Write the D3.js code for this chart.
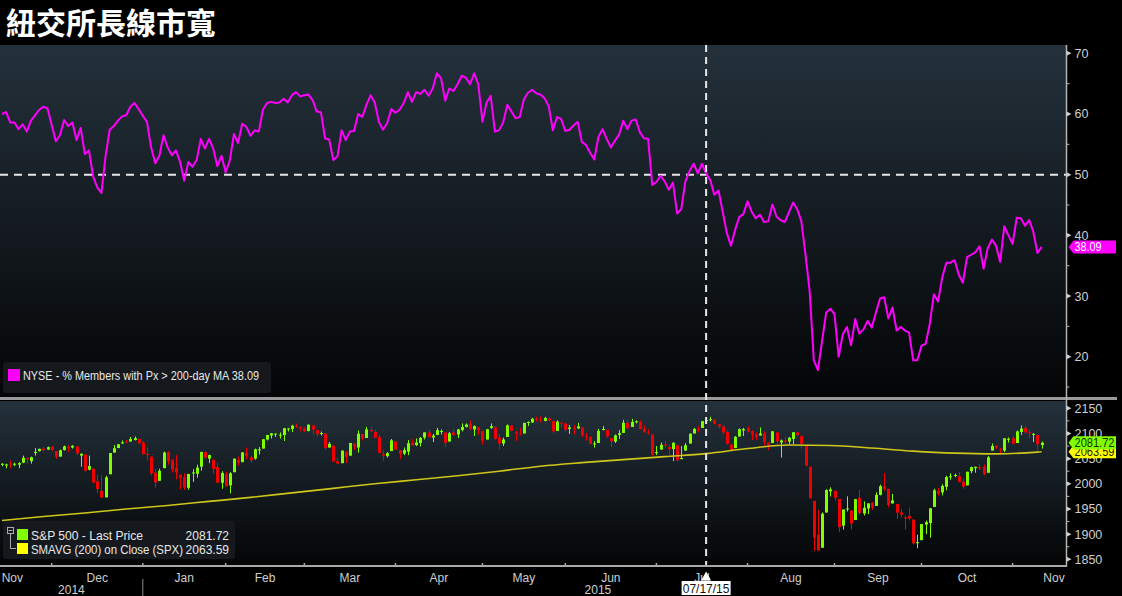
<!DOCTYPE html>
<html><head><meta charset="utf-8">
<script src="https://cdn.jsdelivr.net/npm/d3@7"></script>
<style>
html,body{margin:0;padding:0;background:#000;}
svg{display:block;}
text{font-family:"Liberation Sans",Arial,sans-serif;}
</style></head><body>
<svg id="chart" width="1122" height="596"></svg>
<script>
// ---------- DATA ----------
const title = "紐交所長線市寬";
// NYSE % members above 200-day MA, one value per trading day (11 Nov 2014 .. 10 Nov 2015)
const nyse = [
60.0,60.3,58.6,58.6,57.5,58.3,57.1,58.9,59.8,60.7,
61.2,60.9,58.2,55.5,56.5,59.0,58.0,58.6,55.7,57.7,
53.4,54.0,49.7,47.9,47.0,53.0,57.4,58.0,58.9,59.6,
59.8,61.2,61.8,60.8,59.7,58.7,54.5,51.9,53.1,56.5,
54.5,53.2,54.0,52.1,49.0,52.1,51.3,52.4,55.9,54.3,
55.9,54.3,51.4,53.1,50.4,52.3,56.7,55.2,58.4,57.9,
56.4,57.3,57.1,60.7,61.8,62.0,61.8,61.9,62.5,61.9,
63.1,63.6,62.9,63.1,63.2,62.3,60.4,60.3,56.0,55.8,
52.4,53.0,57.3,55.7,57.1,57.2,60.0,59.5,61.5,63.1,
61.9,58.7,57.4,58.5,60.8,60.2,60.7,61.8,63.6,62.0,
63.6,63.3,64.0,63.0,64.2,66.7,65.9,62.2,64.2,63.8,
64.9,66.3,66.0,64.9,66.7,64.9,58.7,61.9,63.0,57.1,
57.3,58.6,61.5,60.4,59.3,59.5,62.4,63.5,64.0,63.4,
63.2,62.6,61.3,57.3,59.5,59.2,57.2,57.4,58.1,58.7,
55.4,54.9,53.6,52.5,56.2,57.5,55.9,54.5,55.6,56.6,
58.9,57.5,58.9,59.1,57.0,56.0,55.9,48.3,48.8,49.8,
48.9,47.5,48.7,43.6,44.3,48.9,50.6,51.8,50.2,51.8,
50.2,49.1,46.7,47.4,43.9,40.4,38.3,40.9,43.0,43.5,
45.6,43.9,42.8,43.4,42.2,42.3,45.1,43.1,42.5,42.2,
43.8,45.4,44.3,42.3,36.8,30.8,19.4,17.8,22.6,27.3,
27.9,27.0,20.0,23.7,24.9,21.9,26.2,23.8,24.5,25.9,
24.8,27.3,29.6,29.8,26.3,28.1,24.3,24.9,24.3,24.0,
19.4,19.4,21.8,22.1,25.4,30.3,29.1,33.0,35.5,35.5,
35.9,33.5,32.2,36.4,36.8,37.2,38.2,34.5,37.9,39.3,
38.3,35.6,41.5,40.0,38.6,42.9,42.8,41.6,42.5,40.6,
37.1,38.09];
const nyseLast = "38.09";
const nyseLegend = "NYSE - % Members with Px > 200-day MA 38.09";

// S&P 500 daily candles
const spxOpen = [
2039,2037,2040,2039,2038,2042,2051,2045,2061,2065,2070,2068,2074,
2065,2054,2067,2074,2072,2074,2056,2058,2028,2030,2005,1986,1973,2019,2062,2071,2081,2083,2084,2087,2089,2082,
2059,2054,2022,2006,2031,2063,2047,2032,2018,2013,1992,2021,2020,2034,2063,2050,2048,2033,2002,2019,
1997,2023,2048,2043,2062,2053,2050,2068,2070,2088,2096,2099,2097,2097,2109,2109,2115,2113,2111,
2105,2116,2107,2099,2100,2072,2076,2045,2041,2064,2056,2080,2072,2099,2091,2107,2103,2093,2059,2055,2065,2084,
2067,2060,2064,2081,2077,2081,2092,2102,2092,2097,2105,2102,2084,2102,2098,2107,2113,2119,2108,2112,2105,
2088,2111,2112,2092,2080,2093,2116,2103,2100,2100,2122,2122,2130,2128,2125,2130,2125,2105,2122,2120,
2109,2110,2110,2112,2095,2093,2079,2081,2107,2107,2091,2084,2097,2101,2121,2113,2123,2124,2109,2102,2098,2061,
2068,2078,2073,2069,2077,2049,2066,2080,2100,2109,2111,2126,2127,2127,2118,2114,2103,2078,2071,2094,2106,2111,
2105,2097,2096,2100,2082,2081,2102,2082,2086,2084,2089,2102,2095,2076,2034,1966,1899,1873,1943,1985,1986,
1970,1917,1950,1947,1928,1972,1941,1951,1963,1956,1978,1995,1990,1961,1960,1943,1933,1936,1929,1882,1888,
1919,1922,1954,1986,1983,1994,2013,2016,2015,2004,1997,2025,2031,2033,2034,2022,2066,2076,2068,2066,2088,2091,
2081,2103,2111,2102,2098,2097,2077];
const spxHigh = [
2041,2040,2046,2042,2043,2056,2052,2054,2071,2070,2074,2074,2075,
2065,2068,2076,2077,2077,2076,2060,2059,2056,2030,2018,2017,2016,2061,2077,2079,2086,2087,2093,2094,2089,2085,
2072,2054,2030,2030,2064,2065,2049,2057,2018,2021,2020,2029,2038,2064,2065,2058,2048,2042,2025,2024,
2023,2050,2054,2063,2072,2056,2070,2073,2089,2097,2101,2100,2102,2111,2111,2117,2120,2114,2112,
2118,2116,2107,2104,2100,2083,2076,2051,2066,2065,2081,2080,2106,2099,2113,2114,2107,2098,2067,2063,2089,2084,
2067,2072,2087,2089,2090,2093,2102,2108,2099,2111,2108,2102,2103,2109,2109,2120,2120,2126,2116,2113,2105,
2109,2120,2115,2099,2092,2118,2117,2105,2111,2121,2124,2131,2133,2134,2133,2132,2125,2126,2122,2121,
2117,2117,2121,2112,2101,2094,2085,2109,2115,2107,2091,2098,2107,2127,2127,2129,2126,2126,2116,2108,2098,2075,
2082,2085,2078,2083,2077,2075,2081,2100,2111,2115,2125,2127,2133,2128,2119,2116,2106,2079,2095,2110,2111,2114,
2106,2102,2112,2104,2082,2105,2102,2088,2093,2093,2103,2103,2096,2076,2034,1966,1948,1943,1989,1993,1986,
1970,1949,1975,1947,1970,1988,1965,1961,1963,1983,1998,2021,1990,1980,1960,1950,1937,1953,1929,1899,1920,
1927,1952,1990,1992,1999,2016,2021,2020,2023,2010,2024,2034,2034,2039,2038,2055,2080,2076,2071,2090,2092,2095,
2106,2116,2115,2108,2101,2097,2084];
const spxLow = [
2035,2031,2031,2035,2031,2041,2040,2040,2056,2064,2064,2067,2065,
2050,2054,2066,2063,2070,2057,2034,2024,2027,2002,1982,1972,1973,2019,2062,2071,2079,2081,2084,2086,2079,2058,
2047,2017,1992,2006,2031,2038,2022,2009,1989,1988,1988,2004,2012,2026,2050,2041,2020,2001,1990,1995,
1981,2023,2036,2043,2049,2042,2048,2058,2070,2086,2090,2093,2090,2085,2104,2103,2111,2104,2103,
2104,2098,2094,2096,2067,2072,2044,2040,2041,2041,2056,2067,2062,2086,2091,2104,2091,2061,2046,2052,2065,2067,
2049,2057,2057,2076,2075,2074,2088,2092,2083,2097,2098,2073,2084,2095,2091,2104,2112,2107,2095,2097,2078,
2088,2109,2088,2068,2075,2093,2104,2085,2096,2100,2115,2121,2124,2122,2124,2126,2100,2105,2112,2103,
2099,2098,2109,2093,2086,2079,2072,2081,2106,2091,2073,2081,2089,2101,2109,2113,2120,2108,2102,2098,2056,2057,
2068,2071,2058,2045,2044,2049,2066,2080,2100,2102,2111,2119,2124,2118,2110,2099,2077,2064,2071,2094,2095,2102,
2087,2088,2096,2076,2067,2081,2079,2052,2076,2078,2079,2094,2070,2036,1971,1867,1867,1873,1943,1975,1966,
1904,1909,1945,1909,1928,1938,1937,1940,1948,1956,1977,1986,1953,1961,1930,1933,1909,1927,1880,1872,1888,
1900,1893,1954,1977,1977,1987,2008,2013,2003,1990,1997,2021,2022,2027,2017,2022,2066,2069,2058,2063,2082,2079,
2081,2097,2100,2091,2083,2066,2070];
const spxClose = [
2039.7,2038.3,2039.8,2039.8,2041.3,2051.8,2048.7,2052.8,2063.5,2069.4,2067.0,2072.8,2067.6,
2053.4,2066.6,2074.3,2071.9,2075.4,2060.3,2059.8,2026.1,2035.3,2002.3,1989.6,1972.7,2012.9,2061.2,2070.7,2078.5,2082.2,2081.9,2088.8,2090.6,2080.4,2058.9,
2058.2,2020.6,2002.6,2025.9,2062.1,2044.8,2028.3,2023.0,2011.3,1992.7,2019.4,2022.6,2032.1,2063.2,2051.8,2057.1,2029.6,2002.2,2021.3,1995.0,
2020.9,2050.0,2041.5,2062.5,2055.5,2046.7,2068.6,2068.5,2088.5,2097.0,2100.3,2099.7,2097.5,2110.3,2109.7,2115.5,2113.9,2110.7,2104.5,
2117.4,2107.8,2098.5,2101.0,2071.3,2079.4,2044.2,2040.2,2066.0,2053.4,2081.2,2074.3,2099.5,2089.3,2108.1,2104.4,2091.5,2061.1,2056.2,2061.0,2086.2,2067.9,
2059.7,2067.0,2080.6,2076.3,2081.9,2091.2,2102.1,2092.4,2095.8,2106.6,2105.0,2081.2,2100.4,2097.3,2108.0,2112.9,2117.7,2108.9,2114.8,2106.9,2085.5,
2108.3,2114.5,2089.5,2080.2,2088.0,2116.1,2105.3,2099.9,2098.5,2121.1,2122.7,2129.2,2127.8,2125.9,2130.8,2126.1,2104.2,2123.5,2120.8,2107.4,
2111.7,2109.6,2114.1,2095.8,2092.8,2079.3,2080.2,2105.2,2108.9,2094.1,2084.4,2096.3,2100.4,2121.2,2110.0,2122.9,2124.2,2108.6,2102.3,2101.5,2057.6,2063.1,
2077.4,2076.8,2068.8,2081.3,2046.7,2051.3,2076.6,2099.6,2109.0,2107.4,2124.3,2126.6,2128.3,2119.2,2114.2,2102.2,2079.7,2067.6,2093.3,2108.6,2108.6,2103.8,
2098.0,2093.3,2099.8,2083.6,2077.6,2104.2,2084.1,2086.1,2083.4,2091.5,2102.4,2096.9,2079.6,2035.7,1970.9,1893.2,1867.6,1940.5,1987.7,1988.9,1972.2,
1913.9,1948.9,1951.1,1921.2,1969.4,1942.0,1952.3,1961.1,1953.0,1978.1,1995.3,1990.2,1958.0,1967.0,1942.7,1938.8,1932.2,1931.3,1881.8,1884.1,1920.0,
1923.8,1951.4,1987.1,1979.9,1995.8,2013.4,2014.9,2017.5,2003.7,1994.2,2023.9,2033.1,2033.7,2030.8,2018.9,2052.5,2075.2,2071.2,2065.9,2090.4,2089.4,2079.4,
2104.1,2109.8,2102.3,2099.9,2099.2,2078.6,2081.72];
// 200-day simple moving average, sampled every 10 trading days
const smaIdx = [0,10,20,30,40,50,60,70,80,90,100,110,120,130,140,150,160,170,180,190,200,210,220,230,240,250,251];
const smaVal = [1927,1935,1942,1950,1957,1965,1973,1982,1991,2000,2008,2016,2025,2035,2042,2048,2054,2060,2070,2077,2076,2071,2065,2061,2059.5,2063,2063.59];
const spxLegend = ["S&P 500 - Last Price", "SMAVG (200) on Close (SPX)"];
const spxLegendVals = ["2081.72", "2063.59"];

// Month axis: label and index of the first trading day of that month
const monthLabels = ["Nov","Dec","Jan","Feb","Mar","Apr","May","Jun","Jul","Aug","Sep","Oct","Nov"];
const monthStart  = [-6,13,35,55,74,96,117,137,159,181,202,223,245,265];
const yearLabels = ["2014","2015"];
const yearStart  = [-6,35];
const topTicks = [20,30,40,50,60,70];
const botTicks = [1850,1900,1950,2000,2050,2100,2150];
const crossIdx = 170; const crossLabel = "07/17/15"; const crossLevel = 50;

// ---------- DRAW ----------
const svg = d3.select("#chart");
const W = 1122, H = 596;
const plotL = 0, plotR = 1066;
const topY0 = 45, topY1 = 397, botY0 = 401, botY1 = 565, axisY = 566;

const x = d3.scaleLinear().domain([0, 251]).range([2, 1041.6]);
const yTop = d3.scaleLinear().domain([20, 70]).range([356.7, 53.3]);
const yBot = d3.scaleLinear().domain([1850, 2150]).range([559.3, 408.3]);

svg.append("rect").attr("width", W).attr("height", H).attr("fill", "#000");

const defs = svg.append("defs");
function grad(id){
  const g = defs.append("linearGradient").attr("id", id).attr("x1",0).attr("y1",0).attr("x2",0).attr("y2",1);
  g.append("stop").attr("offset","0%").attr("stop-color","#24313b");
  g.append("stop").attr("offset","100%").attr("stop-color","#040506");
}
grad("gTop"); grad("gBot");
defs.append("clipPath").attr("id","cTop").append("rect").attr("x",plotL).attr("y",topY0).attr("width",plotR-plotL).attr("height",topY1-topY0);
defs.append("clipPath").attr("id","cBot").append("rect").attr("x",plotL).attr("y",botY0).attr("width",plotR-plotL).attr("height",botY1-botY0);

// title
svg.append("text").attr("x", 6).attr("y", 34).text(title)
  .style("font-family", '"Noto Sans CJK TC","Noto Sans CJK SC",sans-serif')
  .style("font-size", "30px").style("font-weight", "bold").attr("fill", "#fff");

// panels
svg.append("rect").attr("x",plotL).attr("y",topY0).attr("width",plotR-plotL).attr("height",topY1-topY0).attr("fill","url(#gTop)");
svg.append("rect").attr("x",plotL).attr("y",botY0).attr("width",plotR-plotL).attr("height",botY1-botY0).attr("fill","url(#gBot)");

// separator
svg.append("rect").attr("x",0).attr("y",topY1).attr("width",1117).attr("height",3).attr("fill","#9a9a9a");

// horizontal dashed crosshair (top)
svg.append("line").attr("x1",plotL).attr("x2",plotR).attr("y1",yTop(crossLevel)).attr("y2",yTop(crossLevel))
  .attr("stroke","#e6e6e6").attr("stroke-width",2).attr("stroke-dasharray","8,6");

// NYSE line
const gTop = svg.append("g").attr("clip-path","url(#cTop)");
gTop.append("path").datum(nyse)
  .attr("d", d3.line().x((d,i)=>x(i)).y(d=>yTop(d)))
  .attr("fill","none").attr("stroke","#ff00ff").attr("stroke-width",2).attr("stroke-linejoin","round");

// candles
const gBot = svg.append("g").attr("clip-path","url(#cBot)");
const candles = spxClose.map((c,i)=>({i, o:spxOpen[i], h:spxHigh[i], l:spxLow[i], c}));
const up = "#7fff00", dn = "#f00000";
gBot.selectAll("line.wick").data(candles).join("line").attr("class","wick")
  .attr("x1", d=>Math.round(x(d.i))+0.5).attr("x2", d=>Math.round(x(d.i))+0.5)
  .attr("y1", d=>yBot(d.h)).attr("y2", d=>yBot(d.l))
  .attr("stroke", d=> d.c>=d.o ? up : dn).attr("stroke-width",1);
gBot.selectAll("rect.body").data(candles).join("rect").attr("class","body")
  .attr("x", d=>Math.round(x(d.i))-1).attr("width",3)
  .attr("y", d=>yBot(Math.max(d.o,d.c)))
  .attr("height", d=>Math.max(1, yBot(Math.min(d.o,d.c))-yBot(Math.max(d.o,d.c))))
  .attr("fill", d=> d.c>=d.o ? up : dn);
// SMA
gBot.append("path").datum(smaIdx.map((k,j)=>[k, smaVal[j]]))
  .attr("d", d3.line().x(d=>x(d[0])).y(d=>yBot(d[1])).curve(d3.curveMonotoneX))
  .attr("fill","none").attr("stroke","#cfc619").attr("stroke-width",1.6);

// vertical dashed crosshair
svg.append("line").attr("x1",x(crossIdx)).attr("x2",x(crossIdx)).attr("y1",topY0).attr("y2",axisY)
  .attr("stroke","#e6e6e6").attr("stroke-width",2).attr("stroke-dasharray","7,5");

// right axes
const axX = plotR + 0.5;
svg.append("line").attr("x1",axX).attr("x2",axX).attr("y1",topY0).attr("y2",axisY+1).attr("stroke","#b4b4b4").attr("stroke-width",1.5);
function rightAxis(scale, ticks, minorStep, lo, hi){
  const g = svg.append("g");
  const minors = d3.range(lo, hi+0.001, minorStep);
  g.selectAll("line.mn").data(minors).join("line")
    .attr("x1",axX).attr("x2",axX+3).attr("y1",d=>scale(d)).attr("y2",d=>scale(d))
    .attr("stroke","#b4b4b4").attr("stroke-width",1);
  g.selectAll("path.mj").data(ticks).join("path")
    .attr("d", d=>`M${axX},${scale(d)-2.5}L${axX+5},${scale(d)}L${axX},${scale(d)+2.5}Z`)
    .attr("fill","#d0d0d0");
  g.selectAll("text").data(ticks).join("text")
    .attr("x", axX+8).attr("y", d=>scale(d)+4.5).text(d=>d)
    .attr("fill","#cfcfcf").style("font-size","12.5px");
}
rightAxis(yTop, topTicks, 5, 15, 70);
rightAxis(yBot, botTicks, 25, 1850, 2150);

// value tags
function tag(yv, txt, fill, color){
  const h = 13, x0 = axX+2;
  svg.append("path").attr("d", `M${x0},${yv}L${x0+5},${yv-h/2}L${1116},${yv-h/2}L${1116},${yv+h/2}L${x0+5},${yv+h/2}Z`).attr("fill", fill);
  svg.append("text").attr("x", x0+6).attr("y", yv+4.3).text(txt).attr("fill", color)
    .style("font-size","12px").attr("textLength", txt.length>5 ? 40 : 27).attr("lengthAdjust","spacingAndGlyphs");
}
tag(yTop(nyse[nyse.length-1]), nyseLast, "#ff00ff", "#ffffff");
tag(yBot(smaVal[smaVal.length-1]), spxLegendVals[1], "#ffff00", "#222200");
tag(yBot(spxClose[spxClose.length-1]), spxLegendVals[0], "#80ff00", "#103000");

// legends
const legFont = "11.2px";
svg.append("rect").attr("x",3).attr("y",362).attr("width",268).attr("height",31).attr("rx",3).attr("fill","#15191d");
svg.append("rect").attr("x",8).attr("y",369).attr("width",12).attr("height",12).attr("fill","#ff00ff");
svg.append("text").attr("x",23).attr("y",380).text(nyseLegend).attr("fill","#e8e8e8").style("font-size","12px")
  .attr("textLength",236).attr("lengthAdjust","spacingAndGlyphs");

svg.append("rect").attr("x",3).attr("y",521).attr("width",232).attr("height",38).attr("rx",3).attr("fill","#15191d");
svg.append("rect").attr("x",7.5).attr("y",527.5).attr("width",6).attr("height",6).attr("fill","none").attr("stroke","#aaa");
svg.append("line").attr("x1",8.5).attr("x2",12.5).attr("y1",530.5).attr("y2",530.5).attr("stroke","#aaa");
svg.append("path").attr("d","M10.5,534V548.5H16").attr("fill","none").attr("stroke","#aaa");
const legW = [112, 152];
[up, "#ffff00"].forEach((c,k)=>{
  svg.append("rect").attr("x",17).attr("y",529+k*14).attr("width",11).attr("height",11).attr("fill",c);
  svg.append("text").attr("x",31).attr("y",539.5+k*14).text(spxLegend[k]).attr("fill","#e8e8e8").style("font-size","12px")
    .attr("textLength",legW[k]).attr("lengthAdjust","spacingAndGlyphs");
  svg.append("text").attr("x",229).attr("y",539.5+k*14).attr("text-anchor","end").text(spxLegendVals[k]).attr("fill","#e8e8e8").style("font-size","12px");
});

// x axis
svg.append("rect").attr("x",0).attr("y",axisY-1).attr("width",plotR+1).attr("height",2).attr("fill","#a8a8a8");
const tickIdx = monthStart.slice(1, -1);
svg.selectAll("line.xt").data(tickIdx).join("line").attr("class","xt")
  .attr("x1",d=>x(d-1)).attr("x2",d=>x(d-1)).attr("y1",axisY-3).attr("y2",axisY)
  .attr("stroke","#a8a8a8").attr("stroke-width",1.5);
svg.selectAll("text.mo").data(monthLabels).join("text").attr("class","mo")
  .attr("x",(d,k)=>Math.max(12, (x(monthStart[k]-1)+x(monthStart[k+1]-1))/2))
  .attr("y",582).attr("text-anchor","middle").text(d=>d)
  .attr("fill","#cfcfcf").style("font-size","12px");
svg.selectAll("text.yr").data(yearLabels).join("text").attr("class","yr")
  .attr("x",(d,k)=> k===0 ? (0 + x(yearStart[1]-1))/2 : (x(yearStart[1]-1)+1053)/2)
  .attr("y",594).attr("text-anchor","middle").text(d=>d)
  .attr("fill","#cfcfcf").style("font-size","12px");
svg.append("line").attr("x1",x(yearStart[1]-1)).attr("x2",x(yearStart[1]-1)).attr("y1",579).attr("y2",596).attr("stroke","#8a8a8a");

// crosshair date tag
const cx = x(crossIdx);
svg.append("path").attr("d",`M${cx},${571.5}L${cx+5},${580.5}L${cx-5},${580.5}Z`).attr("fill","#fff");
svg.append("rect").attr("x",cx-24.5).attr("y",581).attr("width",49).attr("height",14).attr("fill","#ffffff");
svg.append("text").attr("x",cx).attr("y",592.5).attr("text-anchor","middle").text(crossLabel).attr("fill","#111").style("font-size","12px");
</script>
</body></html>
